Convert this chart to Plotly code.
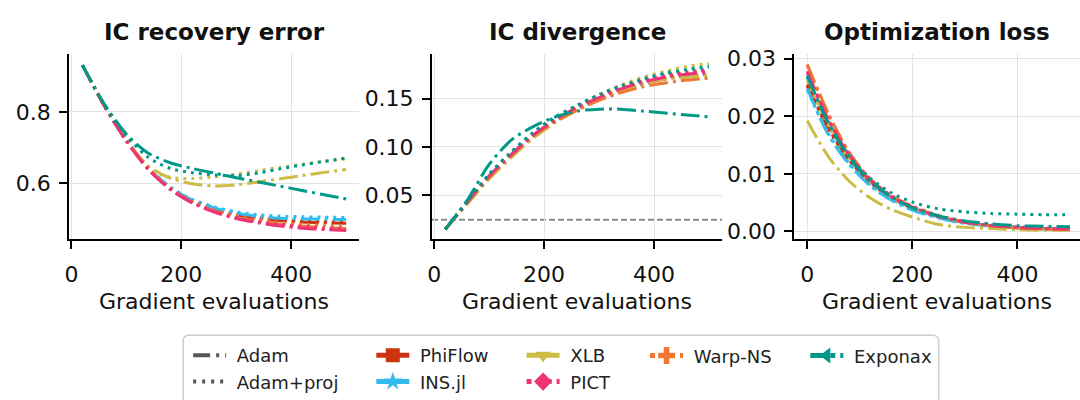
import plotly.graph_objects as go

W, H = 1080, 400

# ---------------- data ----------------
frameworks = ["PhiFlow", "INS.jl", "XLB", "Warp-NS", "PICT", "Exponax"]
colors = ["#CC3311", "#33BBEE", "#CCBB44", "#EE7733", "#EE3377", "#009988"]
legend_symbols = ["square", "star", "triangle-down", "cross", "diamond", "triangle-left"]
legend_dashes = ["solid", "solid", "solid", "dot", "dot", "dashdot"]

panel_titles = ["IC recovery error", "IC divergence", "Optimization loss"]
x_title = "Gradient evaluations"
x_ticks = [0, 200, 400]

# gradient evaluations (x)
x_ic = [20, 60, 100, 140, 180, 220, 260, 300, 340, 380, 420, 460, 500]
x_loss = [0, 40, 80, 120, 160, 200, 250, 300, 350, 400, 450, 500]

# --- IC recovery error ---
err_phiflow_adam = [.932, .818, .720, .641, .586, .549, .526, .510, .500, .494, .490, .488, .487]
err_phiflow_proj = [.932, .818, .721, .642, .587, .551, .528, .512, .503, .497, .493, .491, .490]
err_insjl_adam = [.932, .818, .720, .642, .588, .552, .530, .515, .506, .501, .499, .498, .497]
err_insjl_proj = [.932, .818, .721, .643, .589, .554, .533, .519, .511, .507, .505, .504, .503]
err_xlb_adam = [.932, .818, .722, .648, .614, .598, .592, .595, .603, .612, .621, .630, .638]
err_xlb_proj = [.932, .818, .721, .640, .616, .613, .617, .625, .635, .644, .653, .661, .668]
err_warp_adam = [.932, .818, .719, .640, .584, .546, .521, .503, .492, .484, .479, .475, .472]
err_warp_proj = [.932, .818, .720, .641, .585, .548, .524, .507, .496, .489, .484, .481, .478]
err_pict_adam = [.932, .817, .718, .638, .582, .544, .518, .500, .488, .479, .473, .469, .466]
err_pict_proj = [.932, .817, .719, .639, .583, .545, .520, .503, .491, .483, .477, .473, .470]
err_exponax_adam = [.932, .822, .738, .684, .657, .641, .628, .615, .603, .591, .579, .567, .555]
err_exponax_proj = [.932, .820, .733, .672, .641, .629, .623, .621, .628, .640, .651, .661, .670]

# --- IC divergence ---
div_phiflow_adam = [.015, .043, .070, .092, .112, .127, .139, .149, .158, .165, .170, .173, .175]
div_phiflow_proj = [.015, .043, .071, .093, .113, .128, .141, .152, .161, .168, .173, .177, .179]
div_insjl_adam = [.015, .043, .070, .092, .112, .127, .140, .150, .159, .166, .171, .174, .176]
div_insjl_proj = [.015, .044, .071, .093, .114, .129, .142, .153, .162, .169, .175, .178, .181]
div_xlb_adam = [.015, .041, .067, .089, .109, .125, .138, .149, .158, .165, .170, .172, .174]
div_xlb_proj = [.015, .042, .068, .091, .112, .128, .142, .154, .164, .172, .178, .183, .186]
div_warp_adam = [.015, .043, .069, .091, .111, .126, .138, .148, .156, .162, .166, .169, .171]
div_warp_proj = [.015, .043, .070, .092, .112, .127, .140, .151, .160, .167, .172, .176, .178]
div_pict_adam = [.015, .043, .070, .092, .112, .128, .141, .151, .160, .167, .172, .175, .177]
div_pict_proj = [.015, .043, .071, .093, .113, .129, .142, .152, .161, .168, .174, .177, .180]
div_exponax_adam = [.015, .045, .082, .107, .121, .131, .137, .139, .139, .137, .135, .133, .131]
div_exponax_proj = [.015, .044, .072, .095, .115, .131, .143, .154, .163, .170, .176, .180, .183]
div_reference = 0.025

# --- Optimization loss ---
loss_phiflow_adam = [.0255, .0180, .0124, .0085, .0058, .0040, .0025, .0015, .0010, .0007, .0005, .0004]
loss_phiflow_proj = [.0252, .0178, .0123, .0085, .0059, .0041, .0026, .0016, .0010, .0007, .0005, .0004]
loss_insjl_adam = [.0248, .0168, .0116, .0079, .0054, .0037, .0023, .0014, .0009, .0006, .0004, .0003]
loss_insjl_proj = [.0245, .0170, .0118, .0081, .0056, .0039, .0024, .0015, .0010, .0007, .0005, .0004]
loss_xlb_adam = [.0192, .0130, .0087, .0058, .0038, .0025, .0012, .0007, .0005, .0003, .0002, .0002]
loss_xlb_proj = [.0262, .0184, .0126, .0086, .0059, .0041, .0026, .0016, .0010, .0006, .0004, .0003]
loss_warp_adam = [.0290, .0205, .0137, .0091, .0062, .0043, .0027, .0016, .0010, .0006, .0004, .0003]
loss_warp_proj = [.0288, .0203, .0136, .0090, .0062, .0044, .0028, .0017, .0011, .0007, .0005, .0003]
loss_pict_adam = [.0278, .0195, .0132, .0088, .0060, .0042, .0026, .0016, .0010, .0007, .0005, .0004]
loss_pict_proj = [.0275, .0194, .0133, .0090, .0062, .0043, .0027, .0017, .0011, .0008, .0006, .0004]
loss_exponax_adam = [.0270, .0188, .0128, .0087, .0060, .0041, .0027, .0018, .0013, .0010, .0009, .0008]
loss_exponax_proj = [.0268, .0190, .0131, .0092, .0067, .0051, .0039, .0034, .0031, .0030, .0029, .0029]

# ---------------- styling ----------------
FONT = "DejaVu Sans"
DASH_ADAM = "19px,5px,3px,5px"
DASH_PROJ = "3px,5px"
LW = 3

panels = [
    (x_ic, [(err_phiflow_adam, err_phiflow_proj), (err_insjl_adam, err_insjl_proj),
            (err_xlb_adam, err_xlb_proj), (err_warp_adam, err_warp_proj),
            (err_pict_adam, err_pict_proj), (err_exponax_adam, err_exponax_proj)]),
    (x_ic, [(div_phiflow_adam, div_phiflow_proj), (div_insjl_adam, div_insjl_proj),
            (div_xlb_adam, div_xlb_proj), (div_warp_adam, div_warp_proj),
            (div_pict_adam, div_pict_proj), (div_exponax_adam, div_exponax_proj)]),
    (x_loss, [(loss_phiflow_adam, loss_phiflow_proj), (loss_insjl_adam, loss_insjl_proj),
              (loss_xlb_adam, loss_xlb_proj), (loss_warp_adam, loss_warp_proj),
              (loss_pict_adam, loss_pict_proj), (loss_exponax_adam, loss_exponax_proj)]),
]

fig = go.Figure()

for p, (xs, series) in enumerate(panels):
    xa = "x" if p == 0 else f"x{p+1}"
    ya = "y" if p == 0 else f"y{p+1}"
    for (adam, proj), col in zip(series, colors):
        for ys, dash in ((adam, DASH_ADAM), (proj, DASH_PROJ)):
            fig.add_trace(go.Scatter(
                x=xs, y=ys, xaxis=xa, yaxis=ya, mode="lines",
                line=dict(color=col, width=LW, dash=dash, shape="spline", smoothing=0.8),
                showlegend=False, hoverinfo="skip"))

# ---------------- legend (dummy traces) ----------------
NBSP = "\u00a0"
leg_font = dict(family=FONT, size=18, color="#222222")
fig.add_trace(go.Scatter(x=[None], y=[None], mode="lines", name=NBSP + "Adam",
                         line=dict(color="#555555", width=4, dash="17px,6px,3px,6px"),
                         legend="legend"))
fig.add_trace(go.Scatter(x=[None], y=[None], mode="lines", name=NBSP + "Adam+proj",
                         line=dict(color="#555555", width=4, dash="3px,6px"),
                         legend="legend"))
legend_ids = ["legend2", "legend2", "legend3", "legend4", "legend3", "legend5"]
for name, col, sym, dsh, lg in zip(frameworks, colors, legend_symbols, legend_dashes, legend_ids):
    fig.add_trace(go.Scatter(x=[None], y=[None], mode="lines+markers", name=NBSP + name,
                             line=dict(color=col, width=5, dash=dsh if dsh != "dot" else "5px,5px"),
                             marker=dict(color=col, symbol=sym, size=14, line=dict(width=0)),
                             legend=lg))

legend_text_x = [233, 417, 568, 692, 853]
leg_top = 343
for i, tx in enumerate(legend_text_x):
    key = "legend" if i == 0 else f"legend{i+1}"
    fig.layout[key] = dict(
        x=(tx - 49) / W, xanchor="left", xref="paper",
        y=(H - leg_top) / H, yanchor="top", yref="paper",
        orientation="v", bgcolor="rgba(0,0,0,0)", borderwidth=0,
        font=leg_font, itemwidth=33, itemsizing="trace", tracegroupgap=0)

# legend frame (rounded)
lx0, lx1, ly0 = 179 / W, 938 / W, (H - 341) / H
rx, ry = 6 / W, 6 / H
ybot = -0.2
frame_path = (f"M {lx0},{ybot} L {lx0},{ly0 - ry} Q {lx0},{ly0} {lx0 + rx},{ly0} "
              f"L {lx1 - rx},{ly0} Q {lx1},{ly0} {lx1},{ly0 - ry} L {lx1},{ybot}")
fig.add_shape(type="path", path=frame_path, xref="paper", yref="paper",
              line=dict(color="#cccccc", width=1.5), layer="above")

# ---------------- axes ----------------
x_domains = [(64.5 / W, 356 / W), (429 / W, 720.5 / W), (793 / W, 1.0)]
x_ranges = [[-4, 524], [-4, 524], [-24.6, 519]]
y_domain = ((H - 241) / H, (H - 48) / H)
y_ranges = [[0.4414, 0.963], [0.00475, 0.1958], [-0.00138, 0.03078]]
y_ticks = [[0.6, 0.8], [0.05, 0.10, 0.15], [0.0, 0.01, 0.02, 0.03]]
y_fmts = [".1f", ".2f", ".2f"]

axis_common = dict(showline=True, linecolor="black", linewidth=2,
                   ticks="outside", ticklen=8, tickwidth=2, tickcolor="black",
                   showgrid=True, gridcolor="#e3e3e3", gridwidth=1.2,
                   zeroline=False, tickfont=dict(family=FONT, size=22, color="#111111"),
                   mirror=False)

for p in range(3):
    xk = "xaxis" if p == 0 else f"xaxis{p+1}"
    yk = "yaxis" if p == 0 else f"yaxis{p+1}"
    ya = "y" if p == 0 else f"y{p+1}"
    xa = "x" if p == 0 else f"x{p+1}"
    fig.layout[xk] = dict(domain=list(x_domains[p]), range=x_ranges[p], anchor=ya,
                          tickvals=x_ticks, ticklabelstandoff=6, **axis_common)
    fig.layout[yk] = dict(domain=list(y_domain), range=y_ranges[p], anchor=xa,
                          tickvals=y_ticks[p], tickformat=y_fmts[p], ticklabelstandoff=4,
                          **axis_common)
    cx = (x_domains[p][0] + x_domains[p][1]) / 2
    fig.add_annotation(text=f"<b>{panel_titles[p]}</b>", x=cx, y=(H - 25.5) / H,
                       xref="paper", yref="paper", xanchor="center", yanchor="middle",
                       showarrow=False, font=dict(family=FONT, size=23, color="#111111"))
    fig.add_annotation(text=x_title, x=cx, y=(H - 306) / H,
                       xref="paper", yref="paper", xanchor="center", yanchor="middle",
                       showarrow=False, font=dict(family=FONT, size=22, color="#111111"))

# reference line on IC divergence panel
fig.add_shape(type="line", xref="paper", yref="y2",
              x0=x_domains[1][0], x1=x_domains[1][1],
              y0=div_reference, y1=div_reference,
              line=dict(color="#8a8a8a", width=2, dash="6px,3px"), layer="below")

fig.update_layout(width=W, height=H, margin=dict(l=0, r=0, t=0, b=0),
                  plot_bgcolor="white", paper_bgcolor="white",
                  font=dict(family=FONT, size=18, color="#111111"))

fig.write_html("out.html")
